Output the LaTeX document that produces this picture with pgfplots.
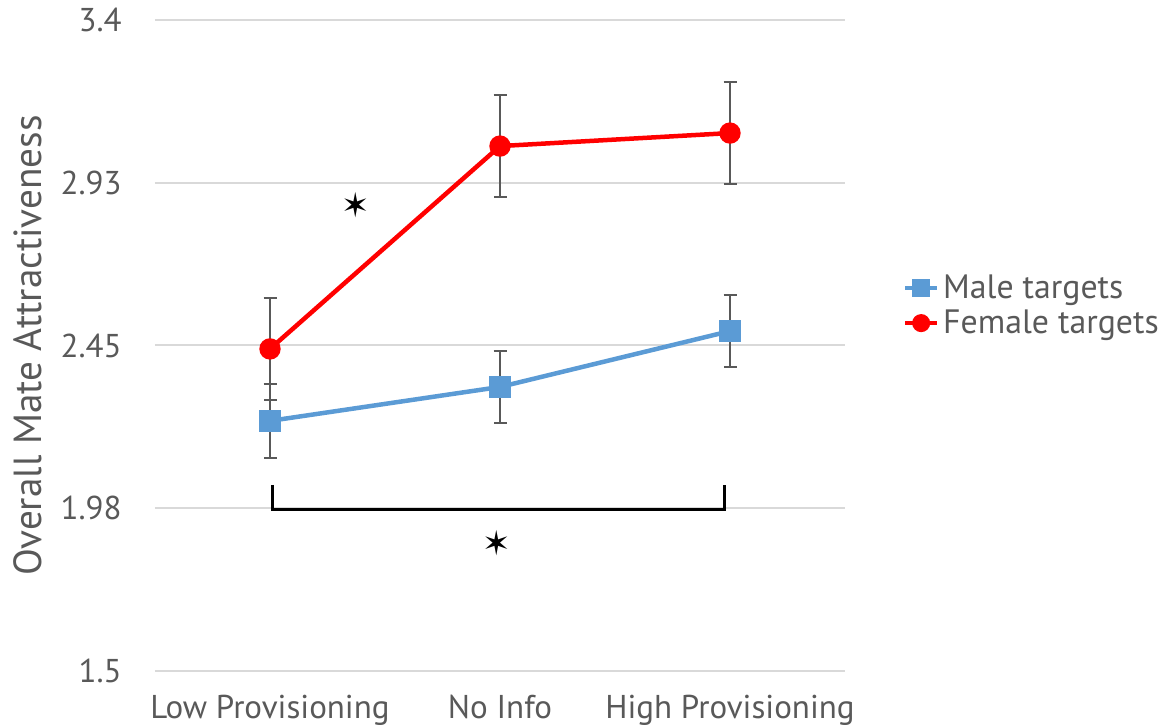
\documentclass[border=0pt]{standalone}
\usepackage{pgfplots}
\pgfplotsset{compat=1.18}
\usepackage{fontspec}
\setmainfont{PT Sans}
\newfontfamily\symfont{DejaVu Sans}
\definecolor{txt}{HTML}{595959}
\definecolor{gridc}{HTML}{D9D9D9}
\definecolor{mblue}{HTML}{5B9BD5}
\definecolor{fred}{HTML}{FF0000}
\begin{document}
\begin{tikzpicture}
\begin{axis}[
  name=ax,
  scale only axis,
  width=345pt, height=325.5pt,
  xmin=-0.5, xmax=2.5,
  ymin=1.5, ymax=3.4,
  axis line style={draw=none},
  xtick={0,1,2},
  xticklabels={Low Provisioning, No Info, High Provisioning},
  ytick={1.5,1.975,2.45,2.925,3.4},
  yticklabels={1.5,1.98,2.45,2.93,3.4},
  major tick length=0pt,
  ymajorgrids,
  grid style={gridc, line width=1pt},
  tick label style={font=\fontsize{16.5}{19}\selectfont, text=txt},
  /pgf/number format/assume math mode=true,
  yticklabel style={inner sep=0pt, xshift=-16.5pt},
  xticklabel style={inner sep=0pt, yshift=-12pt},
  ylabel={Overall Mate Attractiveness},
  ylabel style={font=\fontsize{19.6}{22}\selectfont, text=txt, at={(axis description cs:-0.184,0.5)}, anchor=center},
  legend style={at={(axis description cs:1.075,0.561)}, anchor=west, draw=none, fill=none,
    font=\fontsize{16.9}{20}\selectfont, text=txt, row sep=0pt,
    legend cell align=left},
  legend image code/.code={%
    \draw[mark repeat=2,mark phase=2, mark size=3.5pt, line width=2pt] plot coordinates {(0pt,0pt)(8pt,0pt)(16pt,0pt)};},
  clip=false,
]
\addplot[mblue, line width=2.25pt, mark=square*, mark size=4.2pt,
  error bars/.cd, y dir=both, y explicit,
  error bar style={color=txt, line width=0.75pt},
  error mark options={rotate=90, mark size=3.25pt, line width=0.75pt, color=txt}]
  coordinates {(0,2.23) +- (0,0.108) (1,2.329) +- (0,0.105) (2,2.492) +- (0,0.105)};
\addlegendentry{Male targets}
\addplot[fred, line width=2.25pt, mark=*, mark size=4.2pt,
  error bars/.cd, y dir=both, y explicit,
  error bar style={color=txt, line width=0.75pt},
  error mark options={rotate=90, mark size=3.25pt, line width=0.75pt, color=txt}]
  coordinates {(0,2.44) +- (0,0.149) (1,3.032) +- (0,0.149) (2,3.07) +- (0,0.149)};
\addlegendentry{Female targets}
\draw[black, line width=1.5pt] (axis cs:0.0087,2.043) -- (axis cs:0.0087,1.970) -- (axis cs:1.974,1.970) -- (axis cs:1.974,2.043);
\node[font=\symfont\fontsize{17}{17}\selectfont] at (axis cs:0.374,2.86) {✶};
\node[font=\symfont\fontsize{17}{17}\selectfont] at (axis cs:0.987,1.873) {✶};
\coordinate (sw) at (rel axis cs:0,0);
\end{axis}
\pgfresetboundingbox
\path (sw) ++(-77.5pt,-27.5pt) rectangle ++(585pt,363pt);
\end{tikzpicture}
\end{document}
